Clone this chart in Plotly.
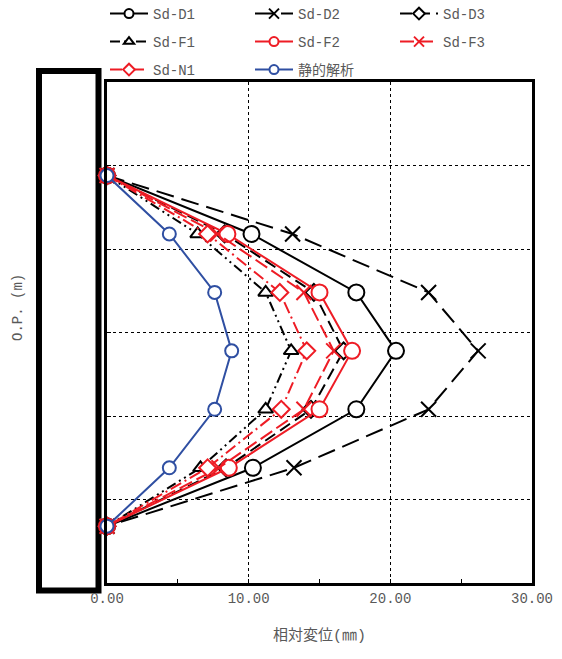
import plotly.graph_objects as go

op_levels = [4.88, 4.18, 3.48, 2.78, 2.08, 1.38, 0.68]

sd_d1 = [0.0, 10.2, 17.6, 20.4, 17.6, 10.3, 0.0]
sd_d2 = [0.0, 13.1, 22.7, 26.2, 22.7, 13.2, 0.0]
sd_d3 = [0.0, 8.3, 14.6, 16.7, 14.4, 8.4, 0.0]
sd_f1 = [0.0, 6.4, 11.2, 13.0, 11.2, 6.6, 0.0]
sd_f2 = [0.0, 8.5, 15.0, 17.3, 15.0, 8.6, 0.0]
sd_f3 = [0.0, 7.8, 13.9, 16.0, 13.9, 7.9, 0.0]
sd_n1 = [0.0, 7.1, 12.2, 14.1, 12.3, 7.1, 0.0]
static = [0.0, 4.4, 7.6, 8.8, 7.6, 4.4, 0.0]

names = ["Sd-D1", "Sd-D2", "Sd-D3", "Sd-F1", "Sd-F2", "Sd-F3", "Sd-N1", "静的解析"]

BLACK = "#000000"
RED = "#ee1c25"
BLUE = "#2f4fa2"
GRAY = "#595959"
FONT = "Liberation Mono, Noto Sans CJK JP"

styles = [
    (sd_d1, BLACK, "solid", "circle", 16),
    (sd_d2, BLACK, "18px,8px", "x-thin", 15),
    (sd_d3, BLACK, "12px,6px", "diamond", 13),
    (sd_f1, BLACK, "10px,4px,2px,4px,2px,4px", "triangle-up", 13),
    (sd_f2, RED, "solid", "circle", 16),
    (sd_f3, RED, "14px,5px", "x-thin", 15),
    (sd_n1, RED, "12px,4px,2px,4px", "diamond", 13),
    (static, BLUE, "solid", "circle", 13),
]
legend_ids = ["legend", "legend", "legend", "legend2", "legend2", "legend2", "legend3", "legend3"]

fig = go.Figure()
for name, (vals, col, dash, sym, size) in zip(names, styles):
    is_x = sym.startswith("x")
    fig.add_trace(go.Scatter(
        x=vals, y=op_levels, name=name, mode="lines+markers",
        cliponaxis=False, showlegend=False,
        line=dict(color=col, width=2, dash=dash),
        marker=dict(symbol=sym, size=size,
                    color=col if is_x else "white",
                    line=dict(color=col, width=2)),
    ))

# legend entries (smaller markers, as in the reference legend)
for name, (vals, col, dash, sym, size), lg in zip(names, styles, legend_ids):
    is_x = sym.startswith("x")
    fig.add_trace(go.Scatter(
        x=[None], y=[None], name=name, mode="lines+markers",
        showlegend=True, legend=lg,
        line=dict(color=col, width=2, dash=dash),
        marker=dict(symbol=sym, size=9 if not is_x else 10,
                    color=col if is_x else "white",
                    line=dict(color=col, width=2)),
    ))

W, H = 562, 659
L, R, T, B = 107, 30, 82, 76
pw, ph = W - L - R, H - T - B

def px_x(p):
    return (p - L) / pw

def px_y(p):
    return (H - B - p) / ph

# wall rectangle
fig.add_shape(type="rect", xref="paper", yref="paper",
              x0=px_x(39), x1=px_x(98.5), y0=px_y(590.5), y1=px_y(71),
              line=dict(color="black", width=6), fillcolor="white", layer="below")

fig.add_annotation(text="O.P. (m)", xref="paper", yref="paper",
                   x=px_x(18), y=px_y(308), xanchor="center", yanchor="middle",
                   textangle=-90, showarrow=False,
                   font=dict(family=FONT, size=14, color=GRAY))

legend_common = dict(orientation="h", x=px_x(105), xanchor="left",
                     yanchor="middle", entrywidth=92, itemwidth=38,
                     font=dict(family=FONT, size=14, color=GRAY),
                     bgcolor="rgba(0,0,0,0)")

fig.update_layout(
    width=W, height=H,
    margin=dict(l=L, r=R, t=T, b=B, autoexpand=False),
    paper_bgcolor="white", plot_bgcolor="white",
    font=dict(family=FONT, size=14, color=GRAY),
    showlegend=True,
    legend=dict(y=px_y(14), **legend_common),
    legend2=dict(y=px_y(42), **legend_common),
    legend3=dict(y=px_y(70), **legend_common),
    xaxis=dict(range=[0, 30], dtick=10, tickformat=".2f",
               showgrid=True, gridcolor="black", griddash="dot", gridwidth=1,
               zeroline=False, showline=True, linecolor="black", linewidth=3, mirror=True,
               ticks="inside", ticklen=4, tickcolor="black",
               minor=dict(dtick=5, ticks="inside", ticklen=4, tickcolor="black", showgrid=False),
               tickfont=dict(family=FONT, size=14, color=GRAY),
               title=dict(text="相対変位(㎜)", standoff=24,
                          font=dict(family=FONT, size=15, color=GRAY))),
    yaxis=dict(range=[0, 6], dtick=1, showticklabels=False,
               showgrid=True, gridcolor="black", griddash="dot", gridwidth=1,
               zeroline=False, showline=True, linecolor="black", linewidth=3, mirror=True,
               ticks="inside", ticklen=4, tickcolor="black"),
)

fig.write_html("out.html", config={"displayModeBar": False},
               post_script="document.body.style.margin='0';document.body.style.overflow='hidden';")
